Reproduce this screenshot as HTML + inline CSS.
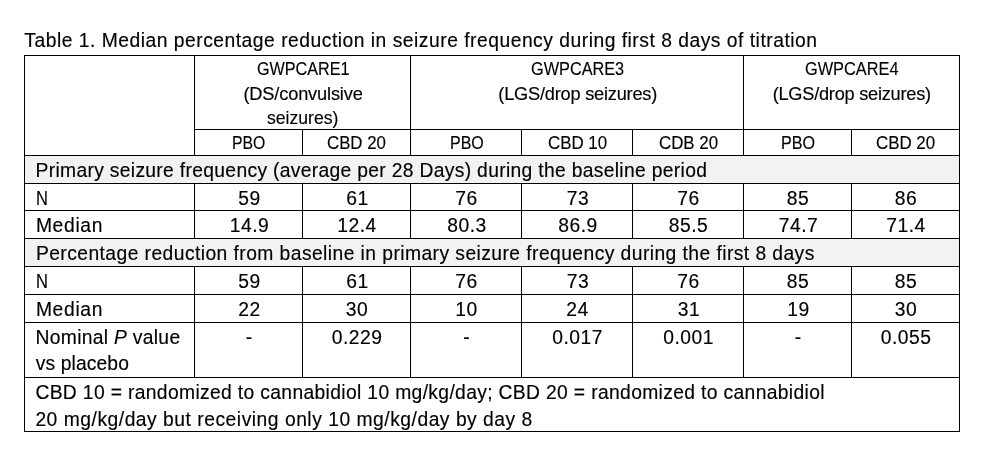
<!DOCTYPE html>
<html><head><meta charset="utf-8"><style>
html,body{margin:0;padding:0;background:#fff;}
body{width:994px;height:460px;position:relative;overflow:hidden;filter:grayscale(1);}
.l{position:absolute;background:#000;}
.s{position:absolute;background:#f2f2f2;}
.t{position:absolute;font-family:"Liberation Sans",sans-serif;font-size:19.3px;line-height:24px;white-space:pre;color:#000;transform-origin:0 0;-webkit-text-stroke:0.15px #000;}
</style></head><body>
<div class="s" style="left:25px;top:156px;width:934px;height:27px"></div>
<div class="s" style="left:25px;top:239px;width:934px;height:27px"></div>
<div class="l" style="left:24px;top:55px;width:936px;height:1px"></div>
<div class="l" style="left:24px;top:155px;width:936px;height:1px"></div>
<div class="l" style="left:24px;top:183px;width:936px;height:1px"></div>
<div class="l" style="left:24px;top:210px;width:936px;height:1px"></div>
<div class="l" style="left:24px;top:238px;width:936px;height:1px"></div>
<div class="l" style="left:24px;top:266px;width:936px;height:1px"></div>
<div class="l" style="left:24px;top:294px;width:936px;height:1px"></div>
<div class="l" style="left:24px;top:322px;width:936px;height:1px"></div>
<div class="l" style="left:24px;top:377px;width:936px;height:1px"></div>
<div class="l" style="left:24px;top:431px;width:936px;height:1px"></div>
<div class="l" style="left:194px;top:129px;width:766px;height:1px"></div>
<div class="l" style="left:24px;top:55px;width:1px;height:377px"></div>
<div class="l" style="left:959px;top:55px;width:1px;height:377px"></div>
<div class="l" style="left:194px;top:55px;width:1px;height:100px"></div>
<div class="l" style="left:194px;top:183px;width:1px;height:55px"></div>
<div class="l" style="left:194px;top:266px;width:1px;height:111px"></div>
<div class="l" style="left:410px;top:55px;width:1px;height:100px"></div>
<div class="l" style="left:410px;top:183px;width:1px;height:55px"></div>
<div class="l" style="left:410px;top:266px;width:1px;height:111px"></div>
<div class="l" style="left:743px;top:55px;width:1px;height:100px"></div>
<div class="l" style="left:743px;top:183px;width:1px;height:55px"></div>
<div class="l" style="left:743px;top:266px;width:1px;height:111px"></div>
<div class="l" style="left:302px;top:129px;width:1px;height:26px"></div>
<div class="l" style="left:302px;top:183px;width:1px;height:55px"></div>
<div class="l" style="left:302px;top:266px;width:1px;height:111px"></div>
<div class="l" style="left:521px;top:129px;width:1px;height:26px"></div>
<div class="l" style="left:521px;top:183px;width:1px;height:55px"></div>
<div class="l" style="left:521px;top:266px;width:1px;height:111px"></div>
<div class="l" style="left:632px;top:129px;width:1px;height:26px"></div>
<div class="l" style="left:632px;top:183px;width:1px;height:55px"></div>
<div class="l" style="left:632px;top:266px;width:1px;height:111px"></div>
<div class="l" style="left:851px;top:129px;width:1px;height:26px"></div>
<div class="l" style="left:851px;top:183px;width:1px;height:55px"></div>
<div class="l" style="left:851px;top:266px;width:1px;height:111px"></div>
<div class="t" style="left:24.3px;top:29px;letter-spacing:0.501px">Table 1. Median percentage reduction in seizure frequency during first 8 days of titration</div>
<div class="t" style="left:256.55px;top:57px;font-size:18.2px;transform:scaleX(0.8883)">GWPCARE1</div>
<div class="t" style="left:243.45px;top:82px;font-size:18.2px;letter-spacing:-0.146px">(DS/convulsive</div>
<div class="t" style="left:266.95px;top:106px;font-size:18.2px;transform:scaleX(0.9681)">seizures)</div>
<div class="t" style="left:530.8px;top:57px;font-size:18.2px;transform:scaleX(0.8951)">GWPCARE3</div>
<div class="t" style="left:498.3px;top:82px;font-size:18.2px;letter-spacing:-0.211px">(LGS/drop seizures)</div>
<div class="t" style="left:804.65px;top:57px;font-size:18.2px;transform:scaleX(0.8981)">GWPCARE4</div>
<div class="t" style="left:772.65px;top:82px;font-size:18.2px;letter-spacing:-0.239px">(LGS/drop seizures)</div>
<div class="t" style="left:232.45px;top:131px;font-size:18.2px;transform:scaleX(0.8676)">PBO</div>
<div class="t" style="left:327.05px;top:131px;font-size:18.2px;transform:scaleX(0.9242)">CBD 20</div>
<div class="t" style="left:449.75px;top:131px;font-size:18.2px;transform:scaleX(0.8784)">PBO</div>
<div class="t" style="left:547.75px;top:131px;font-size:18.2px;transform:scaleX(0.9274)">CBD 10</div>
<div class="t" style="left:658.65px;top:131px;font-size:18.2px;transform:scaleX(0.9274)">CDB 20</div>
<div class="t" style="left:780.5px;top:131px;font-size:18.2px;transform:scaleX(0.8865)">PBO</div>
<div class="t" style="left:876.1px;top:131px;font-size:18.2px;transform:scaleX(0.929)">CBD 20</div>
<div class="t" style="left:35.5px;top:159px;letter-spacing:0.315px">Primary seizure frequency (average per 28 Days) during the baseline period</div>
<div class="t" style="left:35.9px;top:187px;transform:scaleX(0.8583)">N</div>
<div class="t" style="left:238.2px;top:187px;letter-spacing:0.5px">59</div>
<div class="t" style="left:346.2px;top:187px;letter-spacing:0.5px">61</div>
<div class="t" style="left:455.2px;top:187px;letter-spacing:0.5px">76</div>
<div class="t" style="left:566.7px;top:187px;letter-spacing:0.5px">73</div>
<div class="t" style="left:677.2px;top:187px;letter-spacing:0.5px">76</div>
<div class="t" style="left:786.7px;top:187px;letter-spacing:0.5px">85</div>
<div class="t" style="left:894.7px;top:187px;letter-spacing:0.5px">86</div>
<div class="t" style="left:35.9px;top:214px;letter-spacing:0.66px">Median</div>
<div class="t" style="left:229.7px;top:214px;letter-spacing:0.5px">14.9</div>
<div class="t" style="left:337.2px;top:214px;letter-spacing:0.5px">12.4</div>
<div class="t" style="left:447.2px;top:214px;letter-spacing:0.5px">80.3</div>
<div class="t" style="left:558.2px;top:214px;letter-spacing:0.5px">86.9</div>
<div class="t" style="left:668.7px;top:214px;letter-spacing:0.5px">85.5</div>
<div class="t" style="left:778.7px;top:214px;letter-spacing:0.5px">74.7</div>
<div class="t" style="left:886.2px;top:214px;letter-spacing:0.5px">71.4</div>
<div class="t" style="left:35.9px;top:242px;letter-spacing:0.428px">Percentage reduction from baseline in primary seizure frequency during the first 8 days</div>
<div class="t" style="left:35.9px;top:270px;transform:scaleX(0.8583)">N</div>
<div class="t" style="left:238.2px;top:270px;letter-spacing:0.5px">59</div>
<div class="t" style="left:346.2px;top:270px;letter-spacing:0.5px">61</div>
<div class="t" style="left:455.2px;top:270px;letter-spacing:0.5px">76</div>
<div class="t" style="left:566.7px;top:270px;letter-spacing:0.5px">73</div>
<div class="t" style="left:677.2px;top:270px;letter-spacing:0.5px">76</div>
<div class="t" style="left:786.7px;top:270px;letter-spacing:0.5px">85</div>
<div class="t" style="left:894.7px;top:270px;letter-spacing:0.5px">85</div>
<div class="t" style="left:35.9px;top:298px;letter-spacing:0.66px">Median</div>
<div class="t" style="left:238.2px;top:298px;letter-spacing:0.5px">22</div>
<div class="t" style="left:345.7px;top:298px;letter-spacing:0.5px">30</div>
<div class="t" style="left:455.2px;top:298px;letter-spacing:0.5px">10</div>
<div class="t" style="left:566.2px;top:298px;letter-spacing:0.5px">24</div>
<div class="t" style="left:677.7px;top:298px;letter-spacing:0.5px">31</div>
<div class="t" style="left:787.2px;top:298px;letter-spacing:0.5px">19</div>
<div class="t" style="left:894.7px;top:298px;letter-spacing:0.5px">30</div>
<div class="t" style="left:35.6px;top:326px;letter-spacing:0.293px">Nominal <i>P</i> value</div>
<div class="t" style="left:35.8px;top:352px;letter-spacing:0.1px">vs placebo</div>
<div class="t" style="left:245.7px;top:326px;letter-spacing:0.5px">-</div>
<div class="t" style="left:331.7px;top:326px;letter-spacing:0.5px">0.229</div>
<div class="t" style="left:463.2px;top:326px;letter-spacing:0.5px">-</div>
<div class="t" style="left:552.2px;top:326px;letter-spacing:0.5px">0.017</div>
<div class="t" style="left:663.2px;top:326px;letter-spacing:0.5px">0.001</div>
<div class="t" style="left:794.7px;top:326px;letter-spacing:0.5px">-</div>
<div class="t" style="left:880.7px;top:326px;letter-spacing:0.5px">0.055</div>
<div class="t" style="left:35.4px;top:381px;letter-spacing:0.343px">CBD 10 = randomized to cannabidiol 10 mg/kg/day; CBD 20 = randomized to cannabidiol</div>
<div class="t" style="left:35.4px;top:408px;letter-spacing:0.508px">20 mg/kg/day but receiving only 10 mg/kg/day by day 8</div>
</body></html>
